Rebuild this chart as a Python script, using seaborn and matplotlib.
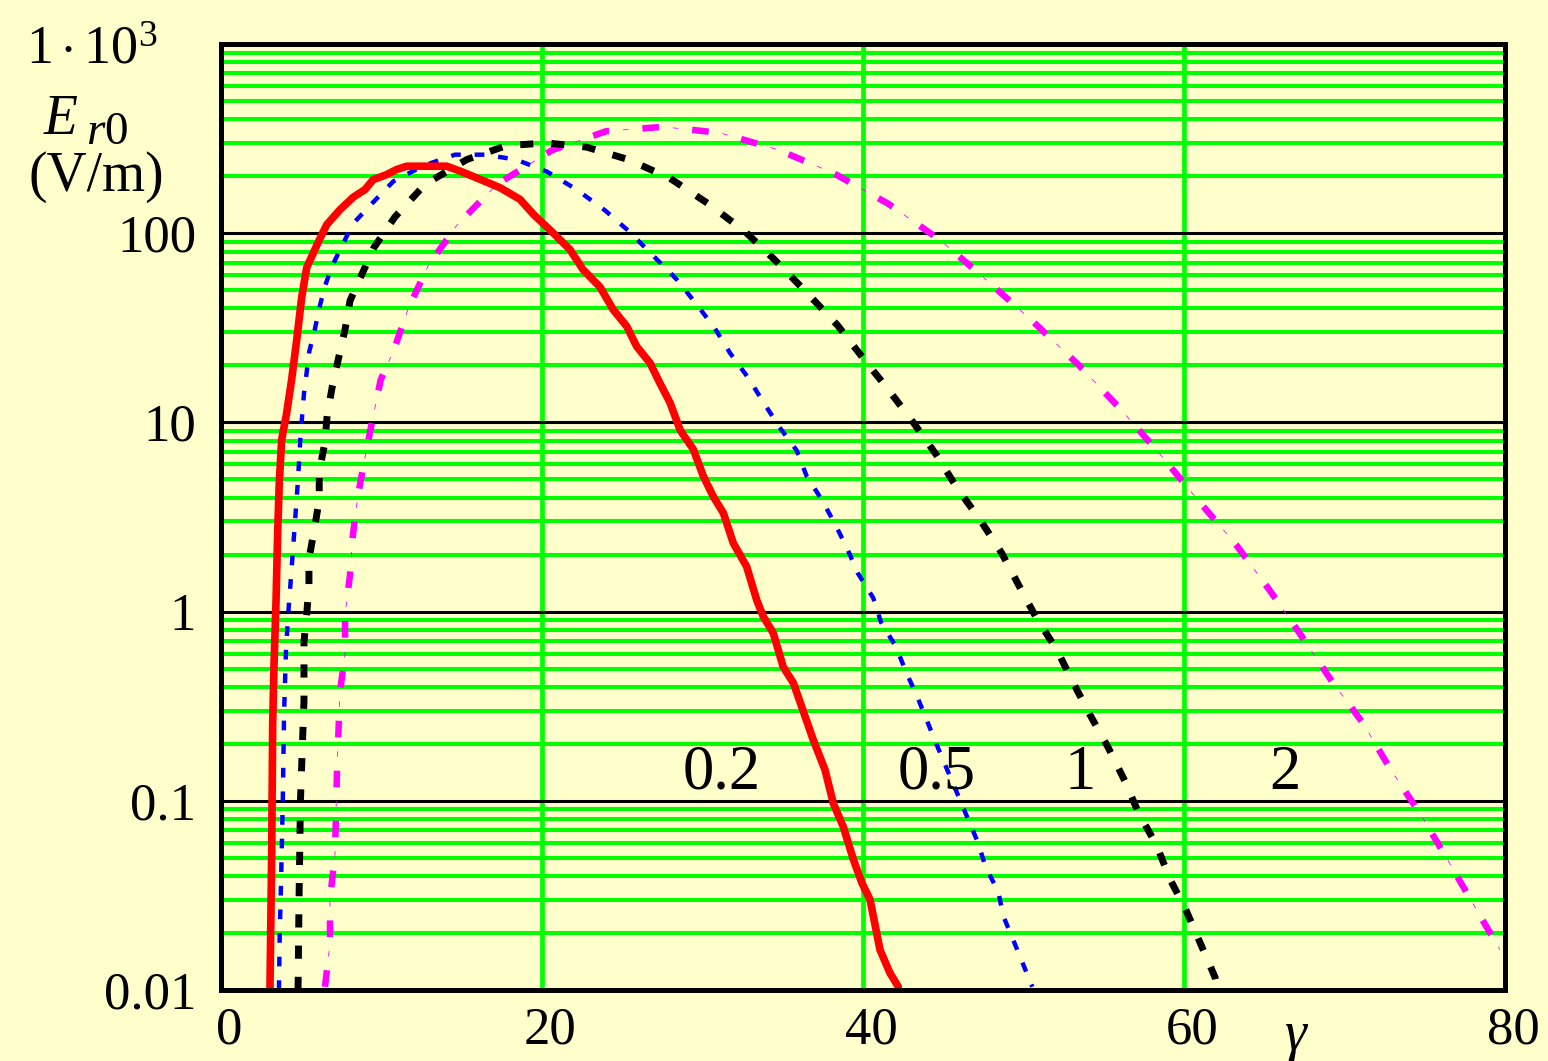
import numpy as np
import pandas as pd
import matplotlib
matplotlib.use("Agg")
import matplotlib.pyplot as plt
import matplotlib.transforms as mtransforms
from matplotlib.ticker import FixedLocator, LogLocator, NullFormatter
import seaborn as sns

# Radiated field amplitude E_r0 versus Lorentz factor gamma, for four parameter values
gamma_02 = [3.05, 3.16, 3.22, 3.30, 3.43, 3.53, 3.63, 3.78, 4.09, 4.40, 4.72, 5.03, 5.34,
            6.04, 6.59, 7.41, 8.24, 8.97, 9.49, 10.32, 10.94, 11.57, 14.06, 14.89, 15.93,
            17.38, 18.63, 19.46, 20.71, 21.74, 22.57, 23.61, 24.44, 25.28, 25.90, 26.73,
            27.35, 27.98, 28.61, 29.43, 30.05, 30.67, 31.30, 31.92, 32.75, 33.38, 33.79,
            34.41, 35.03, 35.66, 36.90, 37.63, 38.15, 38.77, 39.40, 39.92, 40.44, 41.06,
            41.68, 42.20]
E_02 = [0.010, 0.055, 0.258, 0.51, 1.15, 2.6, 4.8, 8.1, 11.2, 16.8, 27.4, 46, 65.8,
        89, 111, 133, 155, 170, 192, 204, 217, 226, 226, 213, 196,
        174, 151, 126, 100, 82, 64, 52, 39.4, 32.2, 25.2, 20.6,
        16.1, 12.7, 9.1, 7.2, 5.2, 4.06, 3.32, 2.30, 1.73, 1.15, 0.94,
        0.77, 0.51, 0.42, 0.21, 0.146, 0.097, 0.073, 0.049, 0.037, 0.030, 0.0163,
        0.0123, 0.0104]

gamma_05 = [3.61, 3.66, 3.75, 3.85, 3.93, 4.05, 4.22, 4.38, 4.60, 4.80, 4.95, 5.17, 5.50,
            5.84, 6.12, 6.46, 6.92, 7.58, 8.21, 9.49, 10.74, 12.65, 14.58, 16.45, 18.38,
            20.29, 22.16, 23.93, 25.38, 26.93, 28.39, 29.64, 30.78, 31.71, 32.85, 33.79,
            34.77, 35.87, 36.49, 37.43, 38.26, 39.02, 39.67, 40.64, 41.12, 42.06, 42.68,
            43.35, 43.97, 44.59, 45.23, 45.88, 46.52, 47.17, 47.64, 48.43, 48.74, 49.37,
            49.99, 50.55]
E_05 = [0.010, 0.02, 0.04, 0.1, 0.29, 0.63, 1.06, 1.6, 2.9, 5.0, 8.4, 14.2, 23.7,
        30.8, 40, 52, 67, 87, 112, 146, 188, 228, 260, 260, 245,
        212, 170, 132, 103, 76, 57, 42, 31.3, 23.3, 17.2, 12.8,
        9.5, 7.1, 5.2, 3.9, 2.9, 2.15, 1.6, 1.18, 0.88, 0.65, 0.48,
        0.36, 0.267, 0.198, 0.147, 0.109, 0.081, 0.060, 0.0446, 0.0331, 0.0246, 0.0183,
        0.0136, 0.0104]

gamma_1 = [4.80, 4.86, 4.95, 5.17, 5.17, 5.34, 5.48, 5.48, 5.81, 6.12, 6.12, 6.46, 6.62,
           6.93, 7.31, 7.73, 8.04, 8.83, 9.53, 10.84, 12.71, 15.31, 17.76, 20.29, 22.79,
           25.38, 27.98, 30.42, 32.65, 34.45, 36.45, 38.40, 39.98, 41.58, 43.13, 44.59,
           45.86, 47.29, 48.64, 49.68, 50.82, 52.07, 53.10, 54.14, 55.28, 56.32, 57.15,
           58.30, 59.13, 60.12, 61.00, 61.93, 62.10]
E_1 = [0.010, 0.029, 0.1, 0.34, 0.69, 0.97, 1.37, 1.9, 2.7, 3.9, 5.5, 7.7, 11,
       15.4, 21.6, 31, 44, 62, 84, 122, 181, 245, 290, 300, 285,
       245, 195, 142, 102, 73, 49, 32.7, 22, 14.9, 10, 6.7,
       4.5, 3.06, 2.04, 1.39, 0.92, 0.63, 0.42, 0.285, 0.191, 0.127, 0.087,
       0.058, 0.0385, 0.0265, 0.0178, 0.0117, 0.0100]

gamma_2 = [6.48, 6.79, 6.79, 7.10, 7.23, 7.41, 7.73, 7.73, 8.04, 8.21, 8.52, 8.97, 9.44,
           9.95, 10.76, 11.67, 12.90, 14.69, 17.18, 20.60, 24.00, 27.56, 31.09, 34.66,
           38.15, 41.58, 44.80, 47.60, 50.61, 53.46, 56.07, 58.57, 60.85, 63.24, 65.30,
           67.29, 69.20, 71.17, 72.88, 74.77, 76.41, 78.07, 79.69]
E_2 = [0.0104, 0.0175, 0.030, 0.052, 0.146, 0.375, 0.60, 0.97, 1.57, 2.5, 4.06, 6.5, 10.4,
       16.8, 24, 40, 67, 110, 181, 274, 346, 365, 339, 277,
       208, 143, 92, 57.5, 34, 20, 11.7, 6.7, 3.9, 2.26, 1.31,
       0.75, 0.43, 0.256, 0.146, 0.084, 0.049, 0.028, 0.0163]

curve_labels = ["0.2", "0.5", "1", "2"]
label_gamma = [31.2, 44.6, 53.5, 66.3]
label_E = 0.116

y_ticks = [0.01, 0.1, 1, 10, 100]
y_ticklabels = ["0.01", "0.1", "1", "10", "100"]
x_ticks = [0, 20, 40, 60, 80]
x_ticklabels = ["0", "20", "40", "60", "80"]

BG = "#FFFFCC"
GREEN = "#00FF00"

sns.set_style("white")
plt.rcParams["font.family"] = ["Liberation Serif", "DejaVu Serif"]
plt.rcParams["mathtext.fontset"] = "custom"
plt.rcParams["mathtext.rm"] = "Liberation Serif"
plt.rcParams["mathtext.it"] = "Liberation Serif:italic"
plt.rcParams["lines.scale_dashes"] = False
plt.rcParams["text.color"] = "black"
plt.rcParams["xtick.labelcolor"] = "black"
plt.rcParams["ytick.labelcolor"] = "black"

fig = plt.figure(figsize=(15.48, 10.61), dpi=100)
fig.patch.set_facecolor(BG)
W, H = 1548, 1061
ax = fig.add_axes([221 / W, 71 / H, 1284 / W, 946 / H])
ax.set_facecolor(BG)

frames = {
    "0.2": pd.DataFrame({"gamma": gamma_02, "E": E_02}),
    "0.5": pd.DataFrame({"gamma": gamma_05, "E": E_05}),
    "1": pd.DataFrame({"gamma": gamma_1, "E": E_1}),
    "2": pd.DataFrame({"gamma": gamma_2, "E": E_2}),
}

common = dict(x="gamma", y="E", ax=ax, estimator=None, sort=False, legend=False)
sns.lineplot(data=frames["2"], color="#FF00FF", lw=4.7, zorder=3, **common)
sns.lineplot(data=frames["2"], color="#FF00FF", lw=0.6, zorder=3, **common)
sns.lineplot(data=frames["1"], color="black", lw=5, zorder=4, **common)
sns.lineplot(data=frames["0.5"], color="#0000FF", lw=3.2, zorder=5, **common)
sns.lineplot(data=frames["0.2"], color="#FF0000", lw=5.5, zorder=6, **common)

# dash patterns given in points: (offset, (on, off))
mag_thick, mag_thin, blk, blu, red = ax.lines[-5:]
mag_thick.set_linestyle((0, (12, 24)))
mag_thin.set_linestyle((14.0, (4, 32)))
blk.set_linestyle((0, (9.5, 13)))
blu.set_linestyle((0, (7, 10)))
for ln in (mag_thick, mag_thin, blk, blu):
    ln.set_dash_capstyle("butt")
red.set_solid_joinstyle("round")

ax.set_yscale("log")
ax.set_xlim(0, 80)
ax.set_ylim(0.01, 1000)

ax.xaxis.set_major_locator(FixedLocator(x_ticks))
ax.set_xticklabels(x_ticklabels)
ax.yaxis.set_major_locator(FixedLocator(y_ticks))
ax.set_yticklabels(y_ticklabels)
ax.yaxis.set_minor_locator(LogLocator(base=10, subs=np.arange(2, 10), numticks=20))
ax.yaxis.set_minor_formatter(NullFormatter())

ax.set_axisbelow(True)
ax.grid(True, which="major", axis="x", color=GREEN, lw=3.4)
ax.grid(True, which="minor", axis="y", color=GREEN, lw=2.9)
ax.grid(True, which="major", axis="y", color="black", lw=2.2)

ax.tick_params(axis="both", which="both", length=0, labelcolor="black")
ax.tick_params(axis="y", labelsize=38, pad=18)
ax.tick_params(axis="x", labelsize=38, pad=12)
offset = mtransforms.ScaledTranslation(8 / 100, 0, fig.dpi_scale_trans)
for lab in ax.get_xticklabels():
    lab.set_transform(lab.get_transform() + offset)

for sp in ax.spines.values():
    sp.set_color("black")
    sp.set_linewidth(3.6)
    sp.set_zorder(10)

ax.set_xlabel("")
ax.set_ylabel("")

for txt, gx in zip(curve_labels, label_gamma):
    ax.text(gx, label_E, txt, ha="center", va="baseline", fontsize=45, zorder=8,
            color="black")

ax.text(-0.049, 1000, r"$1\cdot10^3$", transform=ax.get_yaxis_transform(),
        ha="right", va="center_baseline", fontsize=39, color="black")

fig.text(44 / W, 1 - 134 / H, "E", style="italic", ha="left", va="baseline", fontsize=40,
         color="black")
fig.text(86 / W, 1 - 144 / H, r"$r$0", ha="left", va="baseline", fontsize=34, color="black")
fig.text(96 / W, 1 - 191 / H, "(V/m)", ha="center", va="baseline", fontsize=40, color="black")
fig.text(1297 / W, 1 - 1050 / H, r"$\gamma$", ha="center", va="baseline", fontsize=40,
         color="black")

fig.savefig("out.png", dpi=100, facecolor=BG)
